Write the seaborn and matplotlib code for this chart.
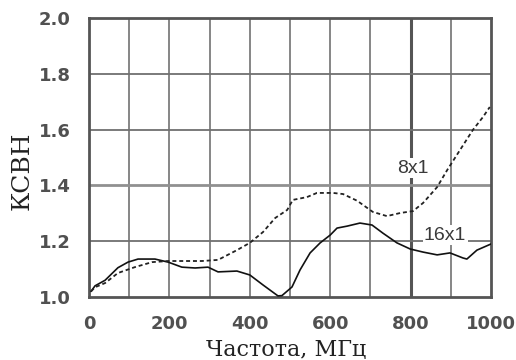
import matplotlib
matplotlib.use("Agg")
import matplotlib.pyplot as plt
import seaborn as sns
import pandas as pd
import numpy as np

# 16x1 (solid)
freq_16 = [5, 15, 40, 72, 97, 122, 164, 197, 231, 264, 296, 321, 368, 400, 433, 470, 480,
           505, 525, 550, 575, 600, 617, 642, 674, 704, 731, 766, 799, 831, 866, 898,
           930, 940, 965, 1000]
vswr_16 = [1.02, 1.04, 1.06, 1.105, 1.125, 1.136, 1.136, 1.125, 1.107, 1.104, 1.107, 1.09,
           1.093, 1.079, 1.043, 1.004, 1.005, 1.036, 1.097, 1.158, 1.194, 1.222, 1.247,
           1.254, 1.265, 1.258, 1.229, 1.194, 1.172, 1.161, 1.151, 1.158, 1.14, 1.136,
           1.168, 1.19]

# 8x1 (dashed)
freq_8 = [5, 15, 40, 72, 114, 157, 197, 239, 281, 321, 368, 400, 433, 463, 493, 507, 542,
          567, 607, 632, 667, 706, 741, 774, 806, 831, 866, 891, 923, 955, 980, 997]
vswr_8 = [1.02, 1.035, 1.05, 1.086, 1.107, 1.125, 1.129, 1.129, 1.129, 1.133, 1.168, 1.194,
          1.233, 1.283, 1.312, 1.348, 1.358, 1.373, 1.373, 1.369, 1.345, 1.305, 1.29,
          1.301, 1.308, 1.337, 1.394, 1.455, 1.527, 1.599, 1.645, 1.681]

x_ticks = [0, 200, 400, 600, 800, 1000]
y_ticks = [1.0, 1.2, 1.4, 1.6, 1.8, 2.0]
y_tick_labels = ["1.0", "1.2", "1.4", "1.6", "1.8", "2.0"]

df16 = pd.DataFrame({"f": freq_16, "v": vswr_16})
df8 = pd.DataFrame({"f": freq_8, "v": vswr_8})

sns.set_style("white")
plt.rcParams["font.family"] = ["Liberation Sans", "DejaVu Sans"]

fig = plt.figure(figsize=(5.16, 3.6), dpi=100)
ax = fig.add_axes([89 / 516, 1 - 297 / 360, (491 - 89) / 516, (297 - 18) / 360])

# grid
for xv in range(100, 1000, 100):
    if xv == 800:
        ax.axvline(xv, color="#555555", lw=2.2, zorder=1)
    else:
        ax.axvline(xv, color="#7d7d7d", lw=1.3, zorder=1)
for yv in [1.2, 1.4, 1.6, 1.8]:
    if abs(yv - 1.4) < 1e-9:
        ax.axhline(yv, color="#909090", lw=2.0, zorder=1)
    else:
        ax.axhline(yv, color="#707070", lw=1.3, zorder=1)

sns.lineplot(data=df16, x="f", y="v", ax=ax, color="#111111", lw=1.2, zorder=3)
sns.lineplot(data=df8, x="f", y="v", ax=ax, color="#222222", lw=1.3,
             linestyle=(0, (2.2, 1.6)), zorder=3)

ax.set_xlim(0, 1000)
ax.set_ylim(1.0, 2.0)
ax.set_xticks(x_ticks)
ax.set_xticklabels([str(t) for t in x_ticks])
ax.set_yticks(y_ticks)
ax.set_yticklabels(y_tick_labels)
ax.tick_params(axis="both", length=0, labelsize=13, labelcolor="#505050")
ax.tick_params(axis="y", pad=13)
ax.tick_params(axis="x", pad=13)
for lab in ax.get_xticklabels() + ax.get_yticklabels():
    lab.set_fontweight("bold")
    lab.set_family("DejaVu Sans")

for s in ax.spines.values():
    s.set_visible(True)
    s.set_color("#555555")
    s.set_linewidth(2.0)

ax.set_xlabel("")
ax.set_ylabel("")
serif = ["DejaVu Serif", "Liberation Serif"]
fig.text(286 / 516, 1 - 356 / 360, "Частота, МГц", family=serif, fontsize=16,
         color="#222222", ha="center", va="baseline")
fig.text(22 / 516, 1 - 171 / 360, "КСВН", family=serif, fontsize=18,
         color="#222222", ha="center", va="center", rotation=90)

ax.text(806, 1.462, "8x1", fontsize=14, color="#3a3a3a", ha="center", va="center",
        bbox=dict(facecolor="white", edgecolor="none", pad=1.0), zorder=4)
ax.text(886, 1.222, "16x1", fontsize=14, color="#3a3a3a", ha="center", va="center",
        bbox=dict(facecolor="white", edgecolor="none", pad=1.0), zorder=4)

fig.savefig("out.png", dpi=100)
